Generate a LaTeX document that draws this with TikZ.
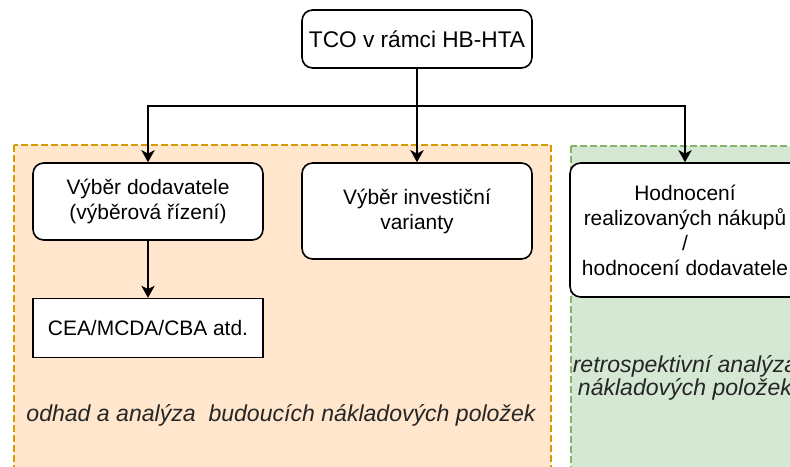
\documentclass[tikz,border=0pt]{standalone}
\usepackage{fontspec}
\setmainfont{Liberation Sans}
\usepackage{tikz}
\usetikzlibrary{arrows.meta,arrows}
\usetikzlibrary{positioning}

\definecolor{futurefill}{HTML}{FFE6CC}
\definecolor{futuredraw}{HTML}{D79B00}
\definecolor{retrofill}{HTML}{D5E8D4}
\definecolor{retrodraw}{HTML}{82B366}

\begin{document}
\begin{tikzpicture}[x=0.75pt,y=-0.75pt,>={Stealth[length=9pt,width=10pt,inset=2.5pt]},line width=1.2pt,
every node/.style={font=\fontsize{15.7}{18.75}\selectfont,align=center,inner sep=0pt},
task/.style={draw,fill=white,rounded corners=8pt,minimum width=172.5pt},
plaintask/.style={draw,fill=white,minimum width=172.5pt},
zone/.style={dash pattern=on 5pt off 2.5pt,line width=1pt},
zonelabel/.style={font=\fontsize{17.3}{17.5}\selectfont\itshape,text=black!85}]
\useasboundingbox (0,0) rectangle (790,467);
\clip (0,0) rectangle (790,467);
% zones
\draw[zone,draw=futuredraw,fill=futurefill] (14,145) rectangle (551,480);
\draw[zone,draw=retrodraw,fill=retrofill] (571,146) rectangle (820,480);
% boxes
\node[task,minimum height=43.5pt,font=\fontsize{17}{20}\selectfont] (tco) at (417,39) {TCO v rámci HB-HTA};
\node[task,minimum height=57.75pt] (supplier) at (148,201.5) {Výběr dodavatele\\(výběrová řízení)};
\node[plaintask,minimum height=44.25pt,below=42.75pt of supplier] (methods) {CEA/MCDA/CBA atd.};
\node[task,minimum height=72pt] (variant) at (417,211) {Výběr investiční\\varianty};
\node[task,minimum height=100.5pt] (review) at (685,230) {Hodnocení\\realizovaných nákupů\\/\\hodnocení dodavatele};
\coordinate (split) at (417,106);
% zone texts
\node[zonelabel,anchor=base] (futurenote) at (281,421) {odhad a analýza\ \ budoucích nákladových položek};
\node[zonelabel] (retronote) at (685,378) {retrospektivní analýza\\nákladových položek};
% connectors
\draw (tco) -- (split);
\draw[->] (split) -| (supplier);
\draw[->] (split) -- (variant);
\draw[->] (split) -| (review);
\draw[->] (supplier) -- (methods);
\end{tikzpicture}
\end{document}
